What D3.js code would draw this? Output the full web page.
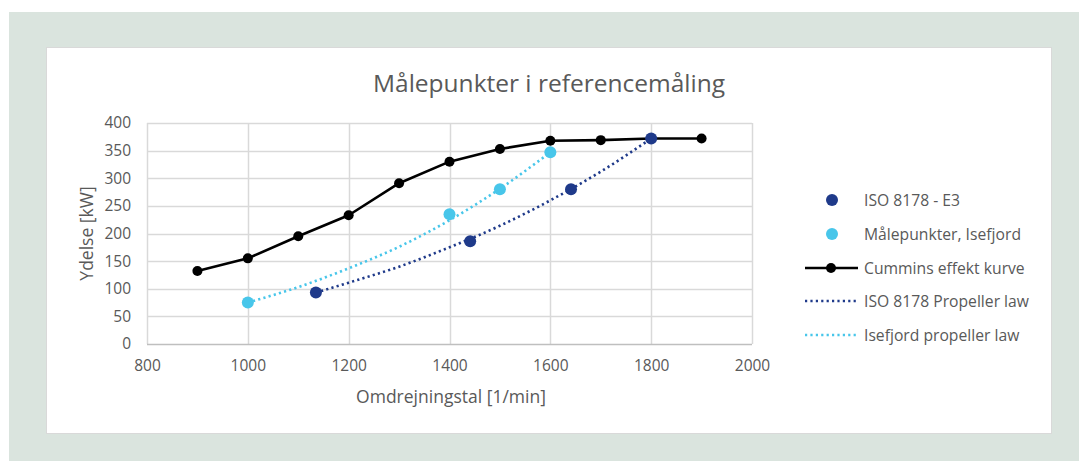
<!DOCTYPE html>
<html>
<head>
<meta charset="utf-8">
<script src="https://cdn.jsdelivr.net/npm/d3@7"></script>
<style>
  html, body { margin: 0; padding: 0; background: #ffffff; }
  svg { display: block; }
  text { font-family: "Open Sans", "Noto Sans", sans-serif; fill: #595959; }
</style>
</head>
<body>
<svg id="chart" width="1079" height="461"></svg>
<script>
// Engine speed (rpm) and power (kW) series
const cumminsRpm = [900, 1000, 1100, 1200, 1300, 1400, 1500, 1600, 1700, 1800, 1900];
const cumminsKw  = [132, 155, 195, 233, 291, 330, 353, 368, 369, 372, 372];

const isoRpm = [1135, 1441, 1641, 1800];
const isoKw  = [93, 186, 280, 372];

const isefjordRpm = [1000, 1400, 1500, 1600];
const isefjordKw  = [75, 235, 280, 347];

// propeller law curves
const isoLawRpm = [1135, 1200, 1300, 1400, 1500, 1600, 1700, 1800];
const isoLawKw  = [93, 111, 140, 175, 214, 260, 312, 372];

const isefjordLawRpm = [1000, 1100, 1200, 1300, 1400, 1500, 1600];
const isefjordLawKw  = [75, 103, 137, 176, 224, 281, 347];

const xTicks = [800, 1000, 1200, 1400, 1600, 1800, 2000];
const yTicks = [0, 50, 100, 150, 200, 250, 300, 350, 400];

const legendLabels = [
  "ISO 8178 - E3",
  "Målepunkter, Isefjord",
  "Cummins effekt kurve",
  "ISO 8178 Propeller law",
  "Isefjord propeller law"
];

const darkBlue = "#1f3a8a";
const lightBlue = "#48c6ea";

const svg = d3.select("#chart");

// outer frame and chart panel
svg.append("rect").attr("x", 9).attr("y", 12).attr("width", 1070).attr("height", 449).attr("fill", "#dae4de");
svg.append("rect").attr("x", 46.5).attr("y", 47.5).attr("width", 1005).attr("height", 386)
  .attr("fill", "#ffffff").attr("stroke", "#d9d9d9").attr("stroke-width", 1);

const x = d3.scaleLinear().domain([800, 2000]).range([147, 752]);
const y = d3.scaleLinear().domain([0, 400]).range([344, 123]);

// gridlines
svg.append("g").selectAll("line").data(yTicks.filter(d => d > 0)).join("line")
  .attr("x1", x(800)).attr("x2", x(2000))
  .attr("y1", d => Math.round(y(d)) + 0.5).attr("y2", d => Math.round(y(d)) + 0.5)
  .attr("stroke", "#d9d9d9").attr("stroke-width", 1.5);
svg.append("g").selectAll("line").data(xTicks).join("line")
  .attr("x1", d => Math.round(x(d)) + 0.5).attr("x2", d => Math.round(x(d)) + 0.5)
  .attr("y1", y(0)).attr("y2", y(400))
  .attr("stroke", "#d9d9d9").attr("stroke-width", 1.5);
svg.append("line").attr("x1", x(800)).attr("x2", x(2000))
  .attr("y1", Math.round(y(0)) + 0.5).attr("y2", Math.round(y(0)) + 0.5)
  .attr("stroke", "#bfbfbf").attr("stroke-width", 1.5);

// axes (labels only)
const xAxis = d3.axisBottom(x).tickValues(xTicks).tickSize(0).tickPadding(16).tickFormat(d3.format("d"));
const gx = svg.append("g").attr("transform", `translate(0,${y(0)})`).call(xAxis);
gx.select(".domain").remove();
gx.selectAll("text").attr("font-size", 15.5).style("font-family", "'Open Sans', sans-serif").attr("fill", "#595959");

const yAxis = d3.axisLeft(y).tickValues(yTicks).tickSize(0).tickPadding(16).tickFormat(d3.format("d"));
const gy = svg.append("g").attr("transform", `translate(${x(800)},0)`).call(yAxis);
gy.select(".domain").remove();
gy.selectAll("text").attr("font-size", 15.5).style("font-family", "'Open Sans', sans-serif").attr("fill", "#595959");

// titles
svg.append("text").attr("x", 549).attr("y", 92).attr("text-anchor", "middle")
  .attr("font-size", 24.5).text("Målepunkter i referencemåling");
svg.append("text").attr("x", 451).attr("y", 403).attr("text-anchor", "middle")
  .attr("font-size", 17.5).text("Omdrejningstal [1/min]");
svg.append("text").attr("transform", `translate(93,${(y(0) + y(400)) / 2}) rotate(-90)`)
  .attr("text-anchor", "middle").attr("font-size", 17.5).text("Ydelse [kW]");

// propeller law curves
const smooth = d3.line().x(d => x(d[0])).y(d => y(d[1])).curve(d3.curveMonotoneX);
const isoLaw = isoLawRpm.map((r, i) => [r, isoLawKw[i]]);
const iseLaw = isefjordLawRpm.map((r, i) => [r, isefjordLawKw[i]]);
svg.append("path").attr("d", smooth(iseLaw)).attr("fill", "none")
  .attr("stroke", lightBlue).attr("stroke-width", 2.6).attr("stroke-dasharray", "2.2 3.2");
svg.append("path").attr("d", smooth(isoLaw)).attr("fill", "none")
  .attr("stroke", darkBlue).attr("stroke-width", 2.6).attr("stroke-dasharray", "2.2 3.2");

// Cummins power curve
const cumPts = cumminsRpm.map((r, i) => [r, cumminsKw[i]]);
const straight = d3.line().x(d => x(d[0])).y(d => y(d[1]));
svg.append("path").attr("d", straight(cumPts)).attr("fill", "none")
  .attr("stroke", "#000000").attr("stroke-width", 2.6).attr("stroke-linejoin", "round");
svg.append("g").selectAll("circle").data(cumPts).join("circle")
  .attr("cx", d => x(d[0])).attr("cy", d => y(d[1])).attr("r", 5).attr("fill", "#000000");

// measured points
const isoPts = isoRpm.map((r, i) => [r, isoKw[i]]);
const isePts = isefjordRpm.map((r, i) => [r, isefjordKw[i]]);
svg.append("g").selectAll("circle").data(isePts).join("circle")
  .attr("cx", d => x(d[0])).attr("cy", d => y(d[1])).attr("r", 6).attr("fill", lightBlue);
svg.append("g").selectAll("circle").data(isoPts).join("circle")
  .attr("cx", d => x(d[0])).attr("cy", d => y(d[1])).attr("r", 6).attr("fill", darkBlue);

// legend
const lg = svg.append("g");
const rowY = [200, 234, 268, 301, 335];
const textX = 864;
lg.append("circle").attr("cx", 832).attr("cy", rowY[0]).attr("r", 6).attr("fill", darkBlue);
lg.append("circle").attr("cx", 832).attr("cy", rowY[1]).attr("r", 6).attr("fill", lightBlue);
lg.append("line").attr("x1", 805).attr("x2", 858).attr("y1", rowY[2]).attr("y2", rowY[2])
  .attr("stroke", "#000").attr("stroke-width", 2.6);
lg.append("circle").attr("cx", 831).attr("cy", rowY[2]).attr("r", 5).attr("fill", "#000");
lg.append("line").attr("x1", 805).attr("x2", 856).attr("y1", rowY[3]).attr("y2", rowY[3])
  .attr("stroke", darkBlue).attr("stroke-width", 2.6).attr("stroke-dasharray", "2.2 3.2");
lg.append("line").attr("x1", 805).attr("x2", 856).attr("y1", rowY[4]).attr("y2", rowY[4])
  .attr("stroke", lightBlue).attr("stroke-width", 2.6).attr("stroke-dasharray", "2.2 3.2");
lg.selectAll("text").data(legendLabels).join("text")
  .attr("x", textX).attr("y", (d, i) => rowY[i]).attr("dy", "0.36em")
  .attr("font-size", 15.7).text(d => d);
</script>
</body>
</html>
